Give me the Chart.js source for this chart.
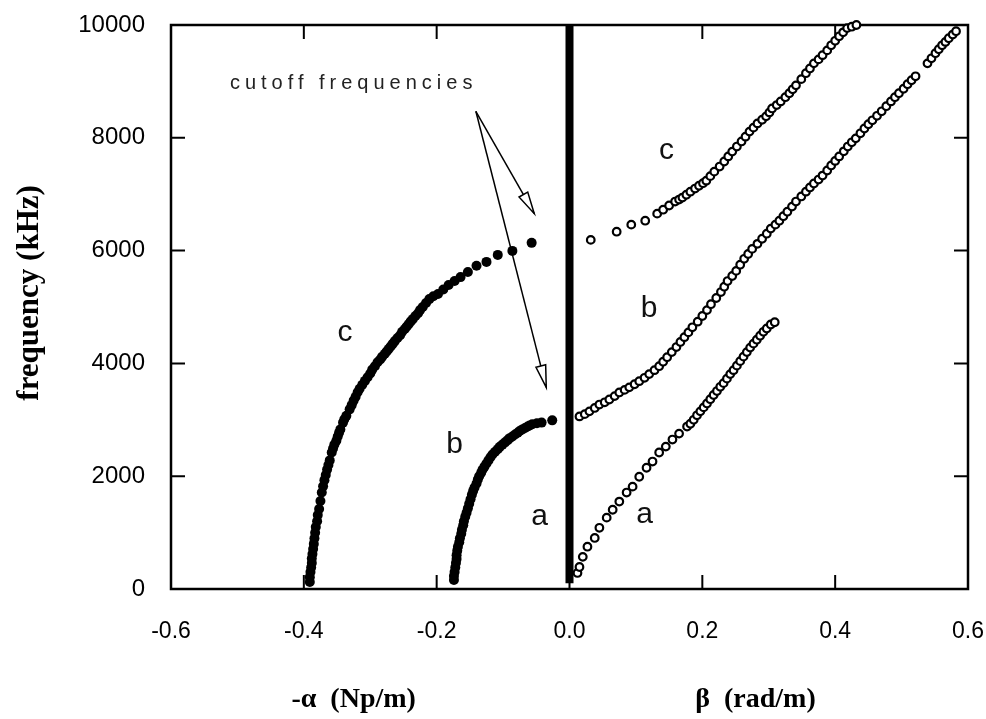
<!DOCTYPE html>
<html lang="en">
<head>
<meta charset="UTF-8">
<title>Dispersion curves</title>
<script src="https://cdn.jsdelivr.net/npm/chart.js"></script>
<style>
  html, body { margin: 0; padding: 0; background: #fff; }
  canvas { display: block; }
</style>
</head>
<body>
<canvas id="dispChart" width="986" height="719"></canvas>
<script>
// axis ticks
const xTicks = [-0.6, -0.4, -0.2, 0.0, 0.2, 0.4, 0.6];
const yTicks = [0, 2000, 4000, 6000, 8000, 10000];

// left half: -alpha (Np/m), filled dots
const negAlphaA = [0, 0];
const freqAlphaA = [100, 10000];

const negAlphaB = [-0.174, -0.174, -0.173, -0.172, -0.171, -0.170, -0.170, -0.169, -0.168, -0.166, -0.165, -0.163, -0.162, -0.160, -0.159, -0.157, -0.155, -0.153, -0.151, -0.149, -0.147, -0.145, -0.143, -0.140, -0.138, -0.136, -0.133, -0.131, -0.128, -0.125, -0.122, -0.119, -0.116, -0.112, -0.108, -0.105, -0.101, -0.097, -0.093, -0.090, -0.086, -0.082, -0.078, -0.075, -0.071, -0.067, -0.063, -0.060, -0.056, -0.049, -0.042, -0.026];
const freqAlphaB = [160, 230, 300, 380, 460, 530, 600, 680, 750, 830, 900, 980, 1050, 1130, 1200, 1280, 1350, 1430, 1510, 1590, 1670, 1740, 1800, 1870, 1940, 2000, 2060, 2115, 2170, 2225, 2280, 2335, 2385, 2435, 2480, 2520, 2560, 2600, 2640, 2675, 2705, 2740, 2770, 2800, 2830, 2855, 2880, 2900, 2920, 2940, 2950, 2990];

const negAlphaC = [-0.391, -0.391, -0.390, -0.389, -0.388, -0.388, -0.387, -0.386, -0.385, -0.384, -0.383, -0.382, -0.380, -0.379, -0.377, -0.375, -0.373, -0.371, -0.369, -0.367, -0.365, -0.363, -0.361, -0.358, -0.356, -0.354, -0.351, -0.349, -0.347, -0.345, -0.341, -0.339, -0.336, -0.331, -0.328, -0.325, -0.322, -0.319, -0.316, -0.312, -0.308, -0.304, -0.300, -0.297, -0.293, -0.289, -0.285, -0.282, -0.278, -0.275, -0.272, -0.269, -0.266, -0.263, -0.259, -0.255, -0.252, -0.248, -0.245, -0.242, -0.239, -0.236, -0.232, -0.228, -0.225, -0.221, -0.216, -0.211, -0.205, -0.198, -0.190, -0.182, -0.173, -0.164, -0.153, -0.140, -0.125, -0.108, -0.086, -0.057];
const freqAlphaC = [125, 210, 300, 380, 460, 540, 620, 710, 800, 900, 996, 1100, 1200, 1310, 1420, 1560, 1710, 1820, 1930, 2020, 2117, 2200, 2280, 2420, 2490, 2560, 2630, 2705, 2770, 2830, 2950, 3010, 3070, 3185, 3260, 3340, 3410, 3490, 3550, 3620, 3690, 3755, 3820, 3890, 3950, 4020, 4070, 4120, 4170, 4215, 4260, 4305, 4350, 4395, 4450, 4500, 4560, 4610, 4655, 4700, 4745, 4785, 4840, 4890, 4945, 5000, 5070, 5140, 5190, 5230, 5310, 5390, 5460, 5530, 5620, 5730, 5800, 5924, 5995, 6137];

// right half: beta (rad/m), open circles
const betaA = [0.012, 0.015, 0.020, 0.027, 0.038, 0.045, 0.056, 0.065, 0.075, 0.086, 0.095, 0.105, 0.116, 0.125, 0.135, 0.145, 0.155, 0.165,
  0.177, 0.182, 0.187, 0.192, 0.197, 0.202, 0.207, 0.212, 0.217, 0.222, 0.227, 0.232, 0.237, 0.242, 0.247, 0.252, 0.257, 0.262, 0.267, 0.272, 0.277, 0.282, 0.287, 0.292, 0.297, 0.303, 0.309];
const freqBetaA = [285, 390, 570, 750, 905, 1085, 1265, 1405, 1550, 1710, 1815, 1990, 2150, 2260, 2420, 2525, 2650, 2755,
  2880, 2930, 3000, 3080, 3150, 3220, 3290, 3365, 3440, 3510, 3585, 3650, 3730, 3810, 3880, 3960, 4040, 4120, 4200, 4280, 4350, 4420, 4490, 4560, 4620, 4690, 4730];

const betaB = [0.015, 0.023, 0.030, 0.038, 0.045, 0.053, 0.060, 0.068, 0.075, 0.083, 0.090, 0.098, 0.105, 0.113, 0.120, 0.128, 0.135, 0.141, 0.147, 0.154, 0.161, 0.167, 0.173, 0.179, 0.185, 0.193, 0.200, 0.207, 0.213, 0.221, 0.228, 0.233, 0.238, 0.245, 0.251, 0.257, 0.263, 0.269, 0.275, 0.283, 0.290, 0.297, 0.303, 0.310, 0.316, 0.322, 0.328, 0.335, 0.341, 0.349, 0.356, 0.362, 0.368, 0.375, 0.381, 0.388, 0.394, 0.400, 0.406, 0.413, 0.419, 0.425, 0.431, 0.438, 0.444, 0.450, 0.456, 0.463, 0.470, 0.477, 0.484, 0.490, 0.496, 0.503, 0.509, 0.515, 0.521, 0.539, 0.545, 0.551, 0.556, 0.561, 0.566, 0.571, 0.577, 0.582];
const freqBetaB = [3060, 3100, 3150, 3210, 3270, 3310, 3360, 3420, 3485, 3530, 3575, 3630, 3685, 3745, 3810, 3880, 3950, 4030, 4110, 4200, 4290, 4380, 4465, 4550, 4640, 4740, 4840, 4945, 5050, 5160, 5265, 5360, 5460, 5550, 5640, 5750, 5855, 5940, 6030, 6120, 6210, 6300, 6390, 6460, 6530, 6610, 6690, 6780, 6870, 6960, 7045, 7120, 7190, 7260, 7330, 7420, 7510, 7590, 7670, 7760, 7845, 7920, 7990, 8080, 8165, 8240, 8310, 8390, 8470, 8560, 8645, 8720, 8790, 8870, 8950, 9020, 9090, 9320, 9410, 9500, 9570, 9640, 9700, 9765, 9830, 9890];

const betaC = [0.032, 0.071, 0.093, 0.114, 0.132, 0.141, 0.150, 0.159, 0.165, 0.170, 0.176, 0.182, 0.189, 0.195, 0.201, 0.206, 0.212, 0.218, 0.226, 0.233, 0.239, 0.245, 0.252, 0.259, 0.265, 0.271, 0.277, 0.283, 0.290, 0.296, 0.301, 0.305, 0.312, 0.318, 0.325, 0.331, 0.336, 0.341, 0.349, 0.356, 0.362, 0.368, 0.375, 0.381, 0.388, 0.394, 0.400, 0.406, 0.412, 0.418, 0.425, 0.432];
const freqBetaC = [6190, 6335, 6460, 6530, 6655, 6725, 6800, 6870, 6905, 6940, 6990, 7045, 7100, 7150, 7195, 7240, 7320, 7400, 7490, 7580, 7670, 7755, 7845, 7935, 8020, 8110, 8180, 8255, 8320, 8380, 8450, 8520, 8580, 8645, 8720, 8790, 8860, 8930, 9040, 9145, 9230, 9320, 9390, 9465, 9550, 9640, 9720, 9800, 9870, 9945, 9970, 10000];

// mode letters, placed in data units
const modeLabels = [
  { text: 'c', x: -0.338, y: 4550 },
  { text: 'b', x: -0.173, y: 2560 },
  { text: 'a', x: -0.045, y: 1280 },
  { text: 'a', x: 0.113, y: 1315 },
  { text: 'b', x: 0.120, y: 4965 },
  { text: 'c', x: 0.146, y: 7775 }
];

function pairs(xs, ys) {
  return xs.map((v, i) => ({ x: v, y: ys[i] }));
}

const filledDot = {
  pointRadius: 5,
  pointBackgroundColor: '#000',
  pointBorderWidth: 0,
  showLine: false
};
const openDot = {
  pointRadius: 3.8,
  pointBackgroundColor: '#fff',
  pointBorderColor: '#000',
  pointBorderWidth: 2.2,
  showLine: false,
  clip: false
};

function arrow(ctx, x1, y1, x2, y2) {
  ctx.beginPath();
  ctx.moveTo(x1, y1);
  ctx.lineTo(x2, y2);
  ctx.stroke();
  const ang = Math.atan2(y2 - y1, x2 - x1);
  const len = 22, half = 5;
  const bx = x2 - len * Math.cos(ang), by = y2 - len * Math.sin(ang);
  ctx.beginPath();
  ctx.moveTo(x2, y2);
  ctx.lineTo(bx + half * Math.sin(ang), by - half * Math.cos(ang));
  ctx.lineTo(bx - half * Math.sin(ang), by + half * Math.cos(ang));
  ctx.closePath();
  ctx.fillStyle = '#fff';
  ctx.fill();
  ctx.stroke();
}

const frameNotes = {
  id: 'frameNotes',
  beforeDatasetsDraw(chart) {
    const { ctx, chartArea: a, scales: { x, y } } = chart;
    ctx.save();
    ctx.strokeStyle = '#000';
    ctx.lineWidth = 2;
    ctx.beginPath();
    xTicks.forEach(v => {
      const px = x.getPixelForValue(v);
      ctx.moveTo(px, a.bottom); ctx.lineTo(px, a.bottom - 14);
      ctx.moveTo(px, a.top); ctx.lineTo(px, a.top + 14);
    });
    yTicks.forEach(v => {
      const py = y.getPixelForValue(v);
      ctx.moveTo(a.left, py); ctx.lineTo(a.left + 14, py);
      ctx.moveTo(a.right, py); ctx.lineTo(a.right - 14, py);
    });
    ctx.stroke();
    ctx.lineWidth = 2.5;
    ctx.strokeRect(a.left, a.top, a.right - a.left, a.bottom - a.top);
    ctx.restore();
  },
  afterDatasetsDraw(chart) {
    const { ctx, scales: { x, y } } = chart;
    ctx.save();
    ctx.fillStyle = '#111';
    ctx.textAlign = 'center';
    ctx.textBaseline = 'middle';

    ctx.font = '30px "Liberation Sans", Arial, sans-serif';
    modeLabels.forEach(m => {
      ctx.fillText(m.text, x.getPixelForValue(m.x), y.getPixelForValue(m.y));
    });

    // cutoff annotation
    ctx.font = '20px "Liberation Sans", Arial, sans-serif';
    ctx.fillStyle = '#222';
    ctx.letterSpacing = '5px';
    ctx.fillText('cutoff frequencies', x.getPixelForValue(-0.325), y.getPixelForValue(8960));
    ctx.letterSpacing = '0px';
    ctx.strokeStyle = '#000';
    ctx.lineWidth = 1.5;
    const ox = x.getPixelForValue(-0.141), oy = y.getPixelForValue(8470);
    arrow(ctx, ox, oy, x.getPixelForValue(-0.053), y.getPixelForValue(6655));
    arrow(ctx, ox, oy, x.getPixelForValue(-0.035), y.getPixelForValue(3575));

    // axis titles
    ctx.fillStyle = '#000';
    ctx.font = 'bold 28px "Liberation Serif", "Times New Roman", serif';
    ctx.fillText('-\u03b1  (Np/m)', x.getPixelForValue(-0.325), 700);
    ctx.fillText('\u03b2  (rad/m)', x.getPixelForValue(0.28), 700);
    ctx.translate(30, y.getPixelForValue(5250));
    ctx.rotate(-Math.PI / 2);
    ctx.font = 'bold 31px "Liberation Serif", "Times New Roman", serif';
    ctx.fillText('frequency (kHz)', 0, 0);
    ctx.restore();
  }
};

new Chart(document.getElementById('dispChart'), {
  type: 'scatter',
  data: {
    datasets: [
      { label: '-alpha a', data: pairs(negAlphaA, freqAlphaA), showLine: true, borderColor: '#000', borderWidth: 8, pointRadius: 0, borderCapStyle: 'butt' },
      Object.assign({ label: '-alpha b', data: pairs(negAlphaB, freqAlphaB) }, filledDot),
      Object.assign({ label: '-alpha c', data: pairs(negAlphaC, freqAlphaC) }, filledDot),
      Object.assign({ label: 'beta a', data: pairs(betaA, freqBetaA) }, openDot),
      Object.assign({ label: 'beta b', data: pairs(betaB, freqBetaB) }, openDot),
      Object.assign({ label: 'beta c', data: pairs(betaC, freqBetaC) }, openDot)
    ]
  },
  options: {
    responsive: false,
    animation: false,
    devicePixelRatio: 1,
    layout: { padding: { left: 0, top: 25, right: 18, bottom: 0 } },
    plugins: { legend: { display: false }, tooltip: { enabled: false } },
    scales: {
      x: {
        type: 'linear',
        min: -0.6,
        max: 0.6,
        afterBuildTicks: s => { s.ticks = xTicks.map(v => ({ value: v })); },
        afterFit: s => { s.height = 130; s.paddingLeft = 0; s.paddingRight = 0; },
        grid: { display: false, drawTicks: false },
        border: { display: false },
        ticks: {
          padding: 29,
          color: '#000',
          font: { family: '"Liberation Sans", Arial, sans-serif', size: 23 },
          callback: v => Number(v).toFixed(1)
        }
      },
      y: {
        type: 'linear',
        min: 0,
        max: 10000,
        afterBuildTicks: s => { s.ticks = yTicks.map(v => ({ value: v })); },
        afterFit: s => { s.width = 171; s.paddingTop = 0; s.paddingBottom = 0; },
        grid: { display: false, drawTicks: false },
        border: { display: false },
        ticks: {
          padding: 26,
          color: '#000',
          font: { family: '"Liberation Sans", Arial, sans-serif', size: 24 },
          callback: v => String(v)
        }
      }
    }
  },
  plugins: [frameNotes]
});
</script>
</body>
</html>
